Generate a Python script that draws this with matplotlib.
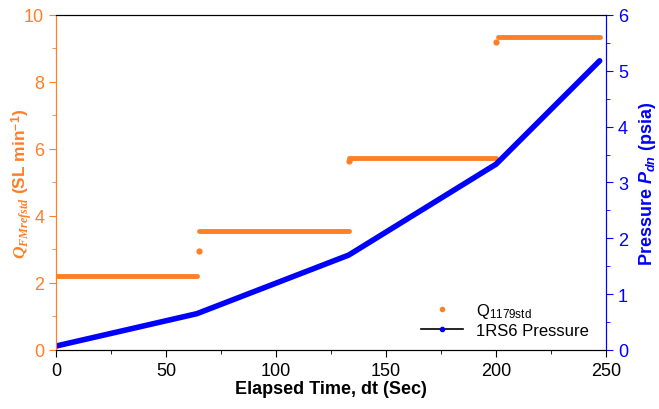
import numpy as np
import matplotlib.pyplot as plt
from matplotlib.lines import Line2D
from matplotlib.ticker import MultipleLocator

plt.rcParams['font.family'] = ['Liberation Sans', 'DejaVu Sans']
plt.rcParams['mathtext.fontset'] = 'custom'
plt.rcParams['mathtext.rm'] = 'Liberation Sans:bold'
plt.rcParams['mathtext.it'] = 'Liberation Serif:italic:bold'
plt.rcParams['mathtext.sf'] = 'Liberation Sans:italic:bold'

# flow steps (start time, end time, level)
step_start = [0, 65, 133, 201]
step_end = [64, 133, 200, 247]
step_level = [2.22, 3.55, 5.72, 9.33]
# transition points
jump_t = [65, 133, 200]
jump_q = [2.95, 5.65, 9.2]

# pressure breakpoints
p_time = [0, 64, 133, 200, 247]
p_val = [0.07, 0.65, 1.70, 3.33, 5.18]

orange = '#FF7F27'
blue = '#0000FF'

fig = plt.figure(figsize=(6.59, 4.10), dpi=100)
ax = fig.add_axes([0.085, 0.144, 0.835, 0.817])
ax2 = ax.twinx()

for t0, t1, q in zip(step_start, step_end, step_level):
    ax.plot([t0, t1], [q, q], color=orange, lw=3.5, solid_capstyle='round')
ax.plot(jump_t, jump_q, 'o', color=orange, ms=4.5, mec='none')

ax2.plot(p_time, p_val, color=blue, lw=4, solid_capstyle='round')

ax.set_xlim(0, 250)
ax.set_ylim(0, 10)
ax2.set_ylim(0, 6)
ax.xaxis.set_major_locator(MultipleLocator(50))
ax.xaxis.set_minor_locator(MultipleLocator(25))
ax.yaxis.set_major_locator(MultipleLocator(2))
ax.yaxis.set_minor_locator(MultipleLocator(1))
ax2.yaxis.set_major_locator(MultipleLocator(1))
ax2.yaxis.set_minor_locator(MultipleLocator(0.5))

ax.tick_params(axis='both', which='both', direction='out', labelsize=13)
ax.tick_params(which='major', length=5)
ax.tick_params(which='minor', length=3)
ax.tick_params(axis='y', which='both', colors=orange)
ax2.tick_params(axis='y', which='both', colors=blue, direction='out', labelsize=13)
ax2.tick_params(which='major', length=5)
ax2.tick_params(which='minor', length=3)

ax2.spines['left'].set_color(orange)
ax2.spines['right'].set_color(blue)
ax.spines['left'].set_color(orange)
ax.spines['right'].set_color(blue)

ax.set_xlabel('Elapsed Time, dt (Sec)', fontsize=13, fontweight='bold', labelpad=1)
ax.set_ylabel(r'$Q_{FMrefstd}$ (SL min$^{-1}$)', fontsize=12.5, fontweight='bold',
              color=orange, va='center')
ax.yaxis.set_label_coords(-0.062, 0.5)
ax2.set_ylabel(r'Pressure $\mathsf{P_{dn}}$ (psia)', fontsize=13, fontweight='bold',
               color=blue, labelpad=6)

handles = [
    Line2D([], [], ls='none', marker='o', color=orange, ms=4, mec='none'),
    Line2D([], [], color='black', lw=1.2, marker='o', mfc=blue, mec=blue, ms=3),
]
labels = [r'Q$\mathregular{_{1179std}}$', '1RS6 Pressure']
ax2.legend(handles, labels, loc='lower right', frameon=False, fontsize=12,
           handlelength=2.5, borderaxespad=0.3, bbox_to_anchor=(0.99, 0.0),
           labelspacing=0.2)

fig.savefig('out.png', dpi=100)
